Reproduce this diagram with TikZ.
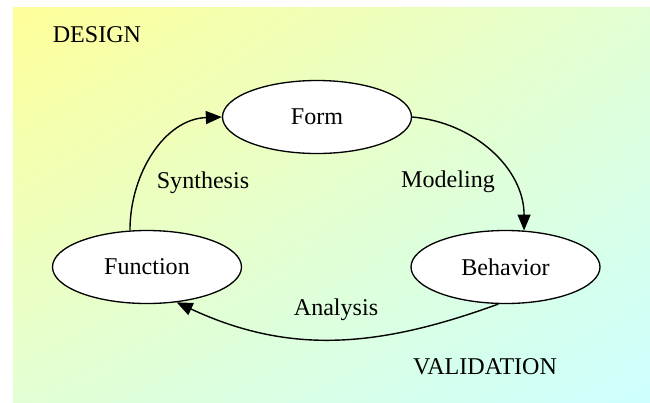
\documentclass[tikz,border=0pt]{standalone}
\usepackage{fontspec}
\setmainfont{Liberation Serif}
\usetikzlibrary{shapes.geometric,arrows.meta,shadings}

\definecolor{designyellow}{RGB}{255,255,153}
\definecolor{midgreen}{RGB}{226,255,212}
\definecolor{validcyan}{RGB}{204,255,255}

\begin{document}
\begin{tikzpicture}[font=\fontsize{13.7}{16}\selectfont,
    phase/.style={ellipse, draw, line width=0.75pt, fill=white, minimum width=3.78cm, minimum height=1.46cm},
    flow/.style={line width=0.8pt, -{Triangle[length=3.2mm, width=2.6mm]}}]
    \useasboundingbox (0,0) rectangle (13,8.04);
    \shade[upper left=designyellow, upper right=midgreen, lower left=midgreen, lower right=validcyan] (0.26,-0.1) rectangle (13.1,7.9);
    \node (design) at (1.94,7.34) {DESIGN};
    \node (validation) at (9.70,0.70) {VALIDATION};
    \node[phase] (form) at (6.34,5.70) {Form};
    \node[phase] (function) at (2.94,2.70) {Function};
    \node[phase] (behavior) at (10.11,2.70) {Behavior};
    \node (synthesis) at (4.06,4.38) {Synthesis};
    \node (modeling) at (8.96,4.40) {Modeling};
    \node (analysis) at (6.72,1.84) {Analysis};
    \draw[flow] (function.115) to[out=90, in=182] (form.west);
    \draw[flow] (form.east) to[out=-5, in=90] (behavior.63);
    \draw[flow] (behavior.259) to[out=200, in=-25] (function.-50);
\end{tikzpicture}
\end{document}
